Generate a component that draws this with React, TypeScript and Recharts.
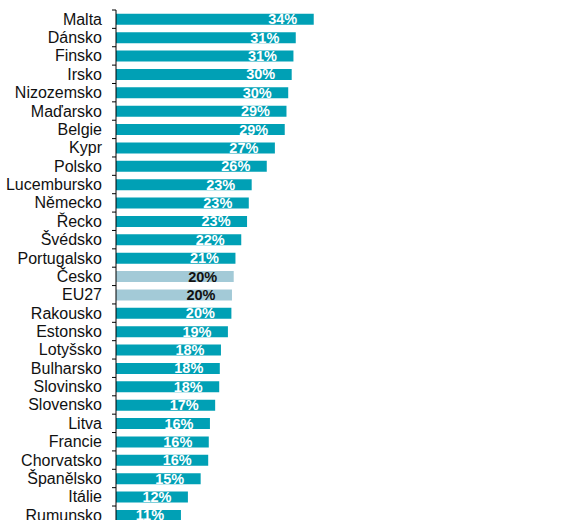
import React from "react";
import { BarChart, Bar, XAxis, YAxis, Cell, LabelList } from "recharts";

const categories = [
  "Malta", "Dánsko", "Finsko", "Irsko", "Nizozemsko", "Maďarsko", "Belgie", "Kypr",
  "Polsko", "Lucembursko", "Německo", "Řecko", "Švédsko", "Portugalsko", "Česko", "EU27",
  "Rakousko", "Estonsko", "Lotyšsko", "Bulharsko", "Slovinsko", "Slovensko", "Litva",
  "Francie", "Chorvatsko", "Španělsko", "Itálie", "Rumunsko",
];

const values = [
  34.1, 31.0, 30.6, 30.3, 29.7, 29.4, 29.1, 27.4,
  26.0, 23.4, 22.9, 22.6, 21.6, 20.6, 20.3, 20.0,
  19.9, 19.3, 18.1, 17.9, 17.8, 17.1, 16.2,
  16.0, 15.9, 14.6, 12.4, 11.2,
];

const highlighted = ["Česko", "EU27"];

const TEAL = "#00A0B5";
const LIGHT = "#A3CAD7";

const CHART_W = 577;
const CHART_H = 530;
const MARGIN = { top: 10, right: 0, bottom: 5.6, left: 0 };
const PLOT_H = CHART_H - MARGIN.top - MARGIN.bottom;

const data = categories.map((name, i) => ({
  name,
  value: values[i],
  hl: highlighted.includes(name),
}));

// category label plus a tick mark on the band boundary (not the centre)
function CategoryTick(props: any) {
  const { x, y, payload, index } = props;
  const band = PLOT_H / categories.length;
  const axisX = x + 14;
  return (
    <g>
      <line x1={axisX - 4} x2={axisX} y1={y - band / 2} y2={y - band / 2} stroke="#000" />
      {index === categories.length - 1 && (
        <line x1={axisX - 4} x2={axisX} y1={y + band / 2} y2={y + band / 2} stroke="#000" />
      )}
      <text x={x} y={y} dy={5.5} textAnchor="end" fontSize={16} fill="#111">
        {payload.value}
      </text>
    </g>
  );
}

function ValueLabel(props: any) {
  const { x, y, width, height, value, index } = props;
  const hl = data[index]?.hl;
  return (
    <text
      x={x + width - 31}
      y={y + height / 2}
      dy={5}
      textAnchor="middle"
      fontSize={14.5}
      fontWeight="bold"
      fill={hl ? "#111" : "#fff"}
    >
      {Math.round(value)}%
    </text>
  );
}

export default function App() {
  return (
    <div style={{ position: "absolute", left: 0, top: 0, fontFamily: "'Liberation Sans', Arial, sans-serif" }}>
      <BarChart
        width={CHART_W}
        height={CHART_H}
        data={data}
        layout="vertical"
        margin={MARGIN}
        barCategoryGap="21%"
      >
        <XAxis
          type="number"
          orientation="top"
          domain={[0, 79.5]}
          allowDataOverflow
          height={0}
          tick={false}
          tickLine={false}
          axisLine={{ stroke: "#c8c8c8" }}
        />
        <YAxis
          type="category"
          dataKey="name"
          width={116}
          interval={0}
          tickLine={false}
          tickSize={4}
          tickMargin={10}
          axisLine={{ stroke: "#000" }}
          tick={<CategoryTick />}
        />
        <Bar dataKey="value" isAnimationActive={false}>
          {data.map((d, i) => (
            <Cell key={i} fill={d.hl ? LIGHT : TEAL} />
          ))}
          <LabelList dataKey="value" content={<ValueLabel />} />
        </Bar>
      </BarChart>
    </div>
  );
}
